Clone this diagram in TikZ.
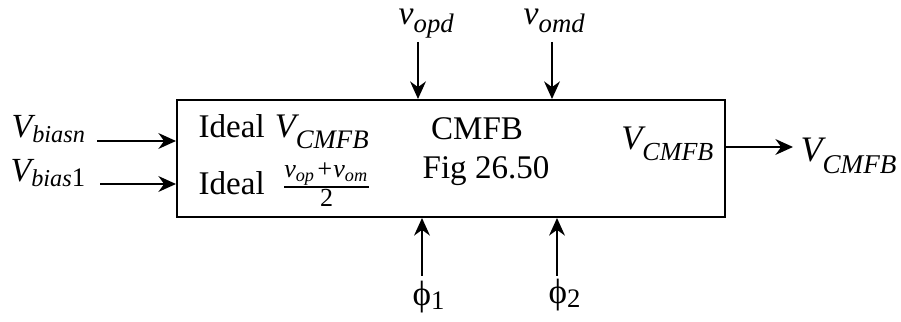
\documentclass[tikz,border=0pt]{standalone}
\usepackage{fontspec}
\setmainfont{Liberation Serif}
\usetikzlibrary{arrows.meta}
% #1 main size, #2 sub size, #3 sub drop, #4 symbol, #5 subscript
\newcommand{\VS}[5]{{\fontsize{#1}{#1}\selectfont\itshape #4}\raisebox{-#3}{\fontsize{#2}{#2}\selectfont\itshape #5}}
\begin{document}
\begin{tikzpicture}[x=0.01cm,y=-0.01cm,
  every node/.style={font=\fontsize{9.4}{11}\selectfont, inner sep=0pt},
  conn/.style={draw, line width=0.5pt, -{Stealth[length=5pt,width=4.5pt]}},
  blockbox/.style={draw, line width=0.6pt}]
\useasboundingbox (0,0) rectangle (901,322);
\draw[blockbox] (177,100) rectangle (725,217);
% left inputs
\node[anchor=base west] (vbn) at (11,138) {\VS{9.6pt}{6.9pt}{1.4pt}{V}{biasn}};
\node[anchor=base west] (vb1) at (10,182) {\VS{9.6pt}{6.9pt}{1.4pt}{V}{bias}\raisebox{-1.4pt}{\fontsize{7.6pt}{8pt}\selectfont 1}};
\coordinate (vbnend) at (97,141);
\coordinate (vb1end) at (100,184);
\coordinate (lin1) at (176,141);
\coordinate (lin2) at (176,184);
\draw[conn] (vbnend) -- (lin1);
\draw[conn] (vb1end) -- (lin2);
% top inputs
\node[anchor=base west] (vopd) at (398,25) {\VS{9.6pt}{7.6pt}{2.2pt}{v}{opd}};
\node[anchor=base west] (vomd) at (523,25) {\VS{9.6pt}{7.6pt}{2.2pt}{v}{omd}};
\coordinate (t1s) at (418,42);
\coordinate (t2s) at (552,42);
\coordinate (t1) at (418,99);
\coordinate (t2) at (552,99);
\draw[conn] (t1s) -- (t1);
\draw[conn] (t2s) -- (t2);
% bottom inputs
\node[anchor=base west] (p1) at (412,306) {\fontsize{10pt}{11pt}\selectfont ϕ\raisebox{-1pt}{\fontsize{7.6pt}{8pt}\selectfont 1}};
\node[anchor=base west] (p2) at (548,304) {\fontsize{10pt}{11pt}\selectfont ϕ\raisebox{-1pt}{\fontsize{7.6pt}{8pt}\selectfont 2}};
\coordinate (b1s) at (422,276);
\coordinate (b2s) at (557,276);
\coordinate (b1) at (422,218);
\coordinate (b2) at (557,218);
\draw[conn] (b1s) -- (b1);
\draw[conn] (b2s) -- (b2);
% inner text
\node[anchor=base west] (i1) at (198,138) {Ideal\hspace{0.5pt} \VS{9.8pt}{7.6pt}{3pt}{V}{CMFB}};
\node[anchor=base west] (i2) at (198,195) {Ideal\hspace{2pt} $\frac{\mbox{\fontsize{7.4pt}{8pt}\selectfont\itshape v\textsubscript{op}+v\textsubscript{om}}}{\mbox{\fontsize{7.4pt}{8pt}\selectfont 2}}$};
\node[anchor=base] (cm) at (477,140) {CMFB};
\node[anchor=base] (fig) at (486,179) {Fig 26.50};
\node[anchor=base east] (vo) at (714,150) {\VS{9.8pt}{7.4pt}{3pt}{V}{CMFB}};
% output
\node[anchor=base west] (vout) at (800,162) {\VS{10.2pt}{7.7pt}{3.4pt}{V}{CMFB}};
\coordinate (oin) at (725,147);
\coordinate (oend) at (793,147);
\draw[conn] (oin) -- (oend);
\end{tikzpicture}
\end{document}
